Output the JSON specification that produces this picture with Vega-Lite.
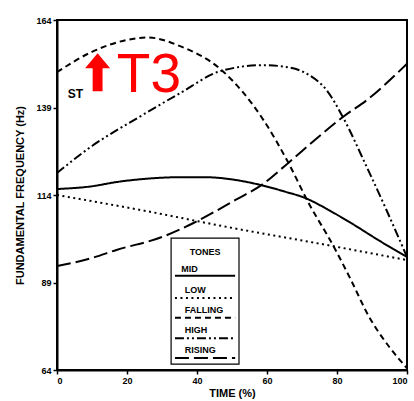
{
  "$schema": "https://vega.github.io/schema/vega-lite/v6.json",
  "width": 350,
  "height": 350,
  "autosize": "none",
  "padding": {"left": 57, "top": 20, "right": 7, "bottom": 31},
  "background": "white",
  "config": {
    "view": {"stroke": "black", "strokeWidth": 2},
    "font": "Liberation Sans",
    "axis": {
      "grid": false,
      "domainColor": "black",
      "domainWidth": 2,
      "tickColor": "black",
      "tickWidth": 1.5,
      "tickSize": 4,
      "labelFont": "Liberation Sans",
      "labelFontWeight": "bold",
      "labelFontSize": 9,
      "labelColor": "black",
      "labelPadding": 2,
      "titleFont": "Liberation Sans",
      "titleFontWeight": "bold",
      "titleFontSize": 11,
      "titleColor": "black"
    }
  },
  "datasets": {
    "curves": [
      {"tone": "MID", "t": 0, "f": 115.7},
      {"tone": "MID", "t": 10, "f": 116.5},
      {"tone": "MID", "t": 17, "f": 117.7},
      {"tone": "MID", "t": 25, "f": 118.6},
      {"tone": "MID", "t": 36, "f": 119.1},
      {"tone": "MID", "t": 42, "f": 119.1},
      {"tone": "MID", "t": 51, "f": 118.3},
      {"tone": "MID", "t": 58, "f": 116.9},
      {"tone": "MID", "t": 65, "f": 115.0},
      {"tone": "MID", "t": 71, "f": 113.1},
      {"tone": "MID", "t": 78, "f": 109.5},
      {"tone": "MID", "t": 84, "f": 106.0},
      {"tone": "MID", "t": 92, "f": 101.0},
      {"tone": "MID", "t": 100, "f": 96.3},
      {"tone": "LOW", "t": 0, "f": 114.0},
      {"tone": "LOW", "t": 25, "f": 109.5},
      {"tone": "LOW", "t": 50, "f": 104.6},
      {"tone": "LOW", "t": 75, "f": 100.1},
      {"tone": "LOW", "t": 100, "f": 95.4},
      {"tone": "FALLING", "t": 0, "f": 149.1},
      {"tone": "FALLING", "t": 10, "f": 154.9},
      {"tone": "FALLING", "t": 20, "f": 158.3},
      {"tone": "FALLING", "t": 26, "f": 159.0},
      {"tone": "FALLING", "t": 35, "f": 156.6},
      {"tone": "FALLING", "t": 47, "f": 149.7},
      {"tone": "FALLING", "t": 59, "f": 135.4},
      {"tone": "FALLING", "t": 66, "f": 123.4},
      {"tone": "FALLING", "t": 72, "f": 111.5},
      {"tone": "FALLING", "t": 79, "f": 99.4},
      {"tone": "FALLING", "t": 84, "f": 89.7},
      {"tone": "FALLING", "t": 89, "f": 79.5},
      {"tone": "FALLING", "t": 95, "f": 70.5},
      {"tone": "FALLING", "t": 100, "f": 64.5},
      {"tone": "HIGH", "t": 0, "f": 120.3},
      {"tone": "HIGH", "t": 10, "f": 128.0},
      {"tone": "HIGH", "t": 23, "f": 136.0},
      {"tone": "HIGH", "t": 35, "f": 143.0},
      {"tone": "HIGH", "t": 47, "f": 149.5},
      {"tone": "HIGH", "t": 59, "f": 151.1},
      {"tone": "HIGH", "t": 66, "f": 150.5},
      {"tone": "HIGH", "t": 72, "f": 148.3},
      {"tone": "HIGH", "t": 77, "f": 144.0},
      {"tone": "HIGH", "t": 81.5, "f": 136.6},
      {"tone": "HIGH", "t": 88.5, "f": 122.0},
      {"tone": "HIGH", "t": 94, "f": 110.0},
      {"tone": "HIGH", "t": 100, "f": 96.3},
      {"tone": "RISING", "t": 0, "f": 93.7},
      {"tone": "RISING", "t": 10, "f": 96.0},
      {"tone": "RISING", "t": 17, "f": 98.3},
      {"tone": "RISING", "t": 30, "f": 102.0},
      {"tone": "RISING", "t": 39, "f": 106.0},
      {"tone": "RISING", "t": 51, "f": 112.6},
      {"tone": "RISING", "t": 58.5, "f": 116.9},
      {"tone": "RISING", "t": 66, "f": 123.1},
      {"tone": "RISING", "t": 74, "f": 130.0},
      {"tone": "RISING", "t": 81.7, "f": 136.3},
      {"tone": "RISING", "t": 88.5, "f": 141.1},
      {"tone": "RISING", "t": 100, "f": 151.5}
    ],
    "legendbox": [
      {"t0": 32.6, "t1": 52, "f0": 65.7, "f1": 101.7}
    ],
    "legendtitle": [
      {"label": "TONES", "t": 42.3, "f": 97.8}
    ],
    "legendentries": [
      {"tone": "MID", "t": 35.5, "t0": 33.7, "t1": 50.9, "fl": 92.0, "fs": 90.9},
      {"tone": "LOW", "t": 36.5, "t0": 33.7, "t1": 50.9, "fl": 86.0, "fs": 84.6},
      {"tone": "FALLING", "t": 36.5, "t0": 33.7, "t1": 50.9, "fl": 80.2, "fs": 78.9},
      {"tone": "HIGH", "t": 36.5, "t0": 33.7, "t1": 50.9, "fl": 74.5, "fs": 73.1},
      {"tone": "RISING", "t": 36.5, "t0": 33.7, "t1": 50.9, "fl": 68.8, "fs": 67.4}
    ],
    "notes": [
      {"label": "ST", "t": 3.1, "f": 141.7}
    ],
    "t3": [
      {"label": "T3", "t": 17.1, "f": 143.4}
    ],
    "arrow": [
      {"t": 11.6, "f": 149.1}
    ]
  },
  "layer": [
    {
      "data": {"name": "curves"},
      "mark": {"type": "line", "interpolate": "monotone", "color": "black", "strokeWidth": 2, "strokeCap": "butt"},
      "encoding": {
        "x": {"field": "t", "type": "quantitative", "scale": {"domain": [0, 100], "nice": false}, "axis": {"values": [0, 20, 40, 60, 80, 100], "title": "TIME (%)", "titlePadding": 2}},
        "y": {"field": "f", "type": "quantitative", "scale": {"domain": [64, 164], "nice": false, "zero": false}, "axis": {"values": [64, 89, 114, 139, 164], "title": "FUNDAMENTAL FREQUENCY (Hz)", "titlePadding": 10}},
        "strokeDash": {"field": "tone", "type": "nominal", "scale": {"domain": ["MID", "LOW", "FALLING", "HIGH", "RISING"], "range": [[1, 0], [2, 3.5], [6, 4], [9, 3, 2, 3, 2, 3], [14, 5]]}, "legend": null},
        "detail": {"field": "tone"}
      }
    },
    {
      "data": {"name": "legendbox"},
      "mark": {"type": "rect", "fill": "white", "stroke": "black", "strokeWidth": 1.2},
      "encoding": {
        "x": {"field": "t0", "type": "quantitative"},
        "x2": {"field": "t1"},
        "y": {"field": "f0", "type": "quantitative"},
        "y2": {"field": "f1"}
      }
    },
    {
      "data": {"name": "legendtitle"},
      "mark": {"type": "text", "font": "Liberation Sans", "fontWeight": "bold", "fontSize": 9, "color": "black", "align": "center", "baseline": "middle"},
      "encoding": {
        "x": {"field": "t", "type": "quantitative"},
        "y": {"field": "f", "type": "quantitative"},
        "text": {"field": "label"}
      }
    },
    {
      "data": {"name": "legendentries"},
      "mark": {"type": "text", "font": "Liberation Sans", "fontWeight": "bold", "fontSize": 9, "color": "black", "align": "left", "baseline": "alphabetic"},
      "encoding": {
        "x": {"field": "t", "type": "quantitative"},
        "y": {"field": "fl", "type": "quantitative"},
        "text": {"field": "tone"}
      }
    },
    {
      "data": {"name": "legendentries"},
      "mark": {"type": "rule", "color": "black", "strokeWidth": 2, "strokeCap": "butt"},
      "encoding": {
        "x": {"field": "t0", "type": "quantitative"},
        "x2": {"field": "t1"},
        "y": {"field": "fs", "type": "quantitative"},
        "strokeDash": {"field": "tone", "type": "nominal", "legend": null}
      }
    },
    {
      "data": {"name": "notes"},
      "mark": {"type": "text", "font": "Liberation Sans", "fontWeight": "bold", "fontSize": 12, "color": "black", "align": "left", "baseline": "alphabetic"},
      "encoding": {
        "x": {"field": "t", "type": "quantitative"},
        "y": {"field": "f", "type": "quantitative"},
        "text": {"field": "label"}
      }
    },
    {
      "data": {"name": "t3"},
      "mark": {"type": "text", "font": "Liberation Sans", "fontSize": 55, "color": "#ff0000", "align": "left", "baseline": "alphabetic"},
      "encoding": {
        "x": {"field": "t", "type": "quantitative"},
        "y": {"field": "f", "type": "quantitative"},
        "text": {"field": "label"}
      }
    },
    {
      "data": {"name": "arrow"},
      "mark": {"type": "point", "shape": "M 0 -1 L 0.66 -0.2 L 0.26 -0.2 L 0.26 1 L -0.26 1 L -0.26 -0.2 L -0.66 -0.2 Z", "size": 1444, "filled": true, "fill": "#ff0000", "opacity": 1, "strokeWidth": 0},
      "encoding": {
        "x": {"field": "t", "type": "quantitative"},
        "y": {"field": "f", "type": "quantitative"}
      }
    }
  ]
}
